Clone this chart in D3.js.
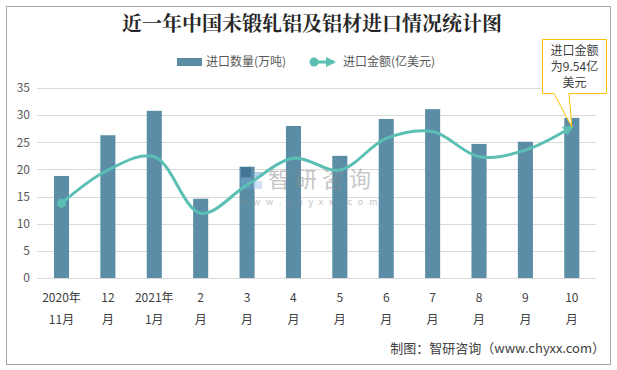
<!DOCTYPE html>
<html><head><meta charset="utf-8">
<script src="https://cdn.jsdelivr.net/npm/d3@7/dist/d3.min.js"></script>
<style>body{margin:0;background:#fff;}svg{display:block;}</style>
</head><body>
<script>
const categories = ["2020年|11月","12|月","2021年|1月","2|月","3|月","4|月","5|月","6|月","7|月","8|月","9|月","10|月"];
const quantity = [18.8, 26.3, 30.8, 14.6, 20.5, 28.0, 22.5, 29.3, 31.1, 24.7, 25.1, 29.5];
const amount = [4.72, 6.82, 7.66, 4.09, 5.88, 7.56, 6.82, 8.82, 9.25, 7.66, 8.08, 9.54];
const yTicks = [0, 5, 10, 15, 20, 25, 30, 35];
const title = "近一年中国未锻轧铝及铝材进口情况统计图";
const legendLabels = ["进口数量(万吨)", "进口金额(亿美元)"];
const calloutLines = ["进口金额", "为9.54亿", "美元"];
const source = "制图：智研咨询（www.chyxx.com）";

const W = 617, H = 370;
const font = "'Microsoft YaHei','Noto Sans CJK SC','Noto Sans',sans-serif";
const svg = d3.select("body").append("svg").attr("width", W).attr("height", H);

svg.append("rect").attr("x", 6.5).attr("y", 6.5).attr("width", 604).attr("height", 358)
  .attr("fill", "#fff").attr("stroke", "#a6a6a6").attr("stroke-width", 1);

svg.append("text").attr("x", 312).attr("y", 31).attr("text-anchor", "middle")
  .attr("font-family", "'Noto Serif CJK SC','Noto Sans CJK SC',serif").attr("font-weight", "bold")
  .attr("font-size", 20).attr("fill", "#262626").text(title);

const x = d3.scaleBand().domain(categories).range([38.3, 595]).paddingInner(0.675).paddingOuter(0.3375);
const y = d3.scaleLinear().domain([0, 35]).range([278, 88]);
const y2 = d3.scaleLinear().domain([0, 12]).range([278, 88]);

// grid
svg.append("g").selectAll("line").data(yTicks).join("line")
  .attr("x1", 37).attr("x2", 596).attr("y1", d => Math.round(y(d)) + 0.5).attr("y2", d => Math.round(y(d)) + 0.5)
  .attr("stroke", "#d9d9d9").attr("stroke-width", 1);

const yAxis = svg.append("g").attr("transform", "translate(30,0)")
  .call(d3.axisLeft(y).tickValues(yTicks).tickSize(0).tickPadding(0));
yAxis.select(".domain").remove();
yAxis.selectAll("text").attr("font-family", font).attr("font-size", 12).attr("fill", "#595959");

// bars
svg.append("g").selectAll("rect").data(quantity).join("rect")
  .attr("x", (d, i) => x(categories[i])).attr("width", x.bandwidth())
  .attr("y", d => y(d)).attr("height", d => y(0) - y(d))
  .attr("fill", "#5b8ea6");

// watermark (above bars, below line)
const wm = svg.append("g").attr("opacity", 0.5);
wm.append("rect").attr("x", 241).attr("y", 167).attr("width", 10).attr("height", 10).attr("fill", "#2f5f8f");
wm.append("rect").attr("x", 241).attr("y", 178).attr("width", 10).attr("height", 11).attr("fill", "#6fa7d6");
wm.append("rect").attr("x", 253).attr("y", 172).attr("width", 9).attr("height", 5).attr("fill", "#6fa7d6");
wm.append("rect").attr("x", 253).attr("y", 181).attr("width", 9).attr("height", 8).attr("fill", "#9fc7e8");
wm.append("text").attr("x", 268).attr("y", 187).attr("font-family", font).attr("font-size", 22)
  .attr("fill", "#8c8c8c").attr("letter-spacing", 5).text("智研咨询");
wm.append("text").attr("x", 240).attr("y", 205).attr("font-family", font).attr("font-size", 9)
  .attr("fill", "#8c8c8c").attr("letter-spacing", 5.8).text("www.chyxx.com");

// line
const cx = i => x(categories[i]) + x.bandwidth() / 2;
const line = d3.line().x((d, i) => cx(i)).y(d => y2(d)).curve(d3.curveCatmullRom.alpha(0.5));
svg.append("defs").append("marker").attr("id", "arr").attr("viewBox", "0 0 10 10")
  .attr("refX", 8).attr("refY", 5).attr("markerWidth", 3.5).attr("markerHeight", 3.5)
  .attr("orient", "auto").append("path").attr("d", "M0,0L10,5L0,10z").attr("fill", "#5bbfb4");
svg.append("path").datum(amount).attr("d", line).attr("fill", "none")
  .attr("stroke", "#5bbfb4").attr("stroke-width", 3).attr("marker-end", "url(#arr)");
svg.append("circle").attr("cx", cx(0)).attr("cy", y2(amount[0])).attr("r", 4.5).attr("fill", "#5bbfb4");

// x labels
const xl = svg.append("g");
categories.forEach((c, i) => {
  const parts = c.split("|");
  parts.forEach((p, j) => {
    xl.append("text").attr("x", cx(i)).attr("y", 302 + j * 22).attr("text-anchor", "middle")
      .attr("font-family", font).attr("font-size", 12).attr("fill", "#404040").text(p);
  });
});

// legend
svg.append("rect").attr("x", 177).attr("y", 58).attr("width", 25).attr("height", 8).attr("fill", "#5b8ea6");
svg.append("text").attr("x", 206).attr("y", 66).attr("font-family", font).attr("font-size", 12)
  .attr("fill", "#595959").text(legendLabels[0]);
svg.append("line").attr("x1", 314).attr("x2", 334).attr("y1", 62).attr("y2", 62)
  .attr("stroke", "#5bbfb4").attr("stroke-width", 3).attr("marker-end", "url(#arr)");
svg.append("circle").attr("cx", 314).attr("cy", 62).attr("r", 4.5).attr("fill", "#5bbfb4");
svg.append("text").attr("x", 343).attr("y", 66).attr("font-family", font).attr("font-size", 12)
  .attr("fill", "#595959").text(legendLabels[1]);

// callout
const tipX = cx(11), tipY = y2(amount[11]);
svg.append("path")
  .attr("d", `M542.5,39.5H606.5V93.5H569L${tipX},${tipY}L554,93.5H542.5Z`)
  .attr("fill", "#fff").attr("stroke", "#ffc000").attr("stroke-width", 1);
calloutLines.forEach((t, i) => {
  svg.append("text").attr("x", 574.5).attr("y", 55 + i * 16).attr("text-anchor", "middle")
    .attr("font-family", font).attr("font-size", 12).attr("fill", "#404040").text(t);
});

svg.append("text").attr("x", 605).attr("y", 353).attr("text-anchor", "end")
  .attr("font-family", font).attr("font-size", 13).attr("fill", "#404040").text(source);
</script>
</body></html>
